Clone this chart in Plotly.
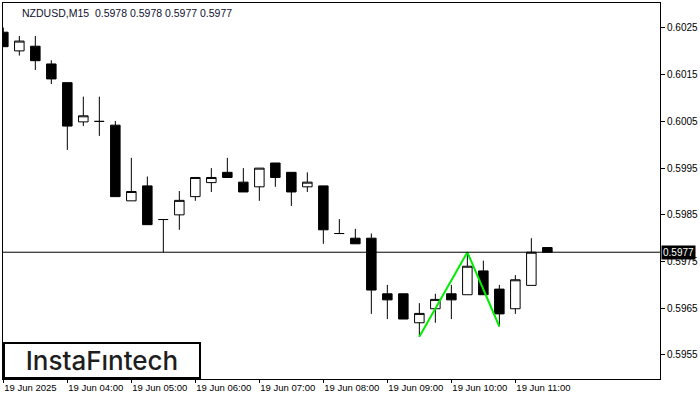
import plotly.graph_objects as go
import pandas as pd

symbol_title = "NZDUSD,M15\u00a0 0.5978 0.5978 0.5977 0.5977"

times = [
    "2025-06-19 03:00", "2025-06-19 03:15", "2025-06-19 03:30", "2025-06-19 03:45",
    "2025-06-19 04:00", "2025-06-19 04:15", "2025-06-19 04:30", "2025-06-19 04:45",
    "2025-06-19 05:00", "2025-06-19 05:15", "2025-06-19 05:30", "2025-06-19 05:45",
    "2025-06-19 06:00", "2025-06-19 06:15", "2025-06-19 06:30", "2025-06-19 06:45",
    "2025-06-19 07:00", "2025-06-19 07:15", "2025-06-19 07:30", "2025-06-19 07:45",
    "2025-06-19 08:00", "2025-06-19 08:15", "2025-06-19 08:30", "2025-06-19 08:45",
    "2025-06-19 09:00", "2025-06-19 09:15", "2025-06-19 09:30", "2025-06-19 09:45",
    "2025-06-19 10:00", "2025-06-19 10:15", "2025-06-19 10:30", "2025-06-19 10:45",
    "2025-06-19 11:00", "2025-06-19 11:15", "2025-06-19 11:30",
]

open_ = [0.60241, 0.60201, 0.60211, 0.60173, 0.60133, 0.60049, 0.60050, 0.60042,
         0.59880, 0.59912, 0.59840, 0.59850, 0.59889, 0.59919, 0.59941, 0.59920,
         0.59910, 0.59961, 0.59941, 0.59910, 0.59912, 0.59810, 0.59800, 0.59800,
         0.59681, 0.59681, 0.59619, 0.59649, 0.59681, 0.59679, 0.59730, 0.59691,
         0.59649, 0.59699, 0.59780]
high = [0.60251, 0.60233, 0.60233, 0.60181, 0.60133, 0.60103, 0.60103, 0.60051,
        0.59972, 0.59932, 0.59840, 0.59901, 0.59930, 0.59950, 0.59972, 0.59950,
        0.59950, 0.59961, 0.59941, 0.59941, 0.59912, 0.59841, 0.59820, 0.59810,
        0.59700, 0.59681, 0.59661, 0.59681, 0.59700, 0.59770, 0.59752, 0.59700,
        0.59721, 0.59800, 0.59780]
low = [0.60210, 0.60191, 0.60160, 0.60130, 0.59989, 0.60040, 0.60019, 0.59889,
       0.59880, 0.59829, 0.59770, 0.59818, 0.59880, 0.59899, 0.59930, 0.59899,
       0.59880, 0.59910, 0.59869, 0.59899, 0.59788, 0.59810, 0.59788, 0.59638,
       0.59627, 0.59627, 0.59589, 0.59619, 0.59627, 0.59679, 0.59679, 0.59611,
       0.59638, 0.59699, 0.59770]
close = [0.60210, 0.60222, 0.60180, 0.60141, 0.60040, 0.60062, 0.60050, 0.59889,
         0.59900, 0.59829, 0.59840, 0.59881, 0.59930, 0.59930, 0.59930, 0.59899,
         0.59950, 0.59930, 0.59899, 0.59920, 0.59818, 0.59810, 0.59788, 0.59689,
         0.59668, 0.59627, 0.59639, 0.59669, 0.59668, 0.59740, 0.59679, 0.59638,
         0.59711, 0.59770, 0.59770]

# double-bottom pattern: low -> high -> low
pattern_idx = [26, 29, 31]
pattern_kind = ["low", "high", "low"]

y_tick_vals = [0.5955, 0.5965, 0.5975, 0.5985, 0.5995, 0.6005, 0.6015, 0.6025]
x_tick_vals = ["2025-06-19 03:00", "2025-06-19 04:00", "2025-06-19 05:00",
               "2025-06-19 06:00", "2025-06-19 07:00", "2025-06-19 08:00",
               "2025-06-19 09:00", "2025-06-19 10:00", "2025-06-19 11:00"]
x_tick_text = ["19 Jun 2025", "19 Jun 04:00", "19 Jun 05:00", "19 Jun 06:00",
               "19 Jun 07:00", "19 Jun 08:00", "19 Jun 09:00", "19 Jun 10:00",
               "19 Jun 11:00"]

FONT = "Liberation Sans"

fig = go.Figure()
fig.add_trace(go.Candlestick(
    x=times, open=open_, high=high, low=low, close=close,
    increasing=dict(line=dict(color="black", width=1), fillcolor="white"),
    decreasing=dict(line=dict(color="black", width=1), fillcolor="black"),
    whiskerwidth=0, showlegend=False, hoverinfo="skip",
))

pat_x = [times[i] for i in pattern_idx]
pat_y = [low[i] if k == "low" else high[i] for i, k in zip(pattern_idx, pattern_kind)]
fig.add_trace(go.Scatter(x=pat_x, y=pat_y, mode="lines",
                         line=dict(color="#00ee00", width=2),
                         showlegend=False, hoverinfo="skip"))

t0 = pd.Timestamp(times[0])
bar = pd.Timedelta(minutes=15)
x_range = [t0 - 0.02 * bar, t0 + 41.04 * bar]

last = close[-1]
fig.add_shape(type="line", xref="paper", x0=0, x1=1, yref="y", y0=last, y1=last,
              line=dict(color="black", width=1))

fig.add_annotation(xref="paper", x=1, xanchor="left", xshift=1, yref="y", y=last,
                   yanchor="middle", text=f"{last:.4f}", showarrow=False,
                   bgcolor="black", font=dict(color="white", size=10, family=FONT),
                   borderpad=1)

fig.add_annotation(xref="paper", x=0, xanchor="left", xshift=17, yref="paper", y=1,
                   yanchor="top", yshift=-2, text=symbol_title, showarrow=False,
                   font=dict(color="#101030", size=10.5, family=FONT))

fig.add_annotation(xref="paper", x=0, xanchor="left", yref="paper", y=0, yanchor="bottom",
                   text="InstaF\u0131ntech", showarrow=False,
                   font=dict(color="#1e1e1e", size=26, family="Inter", weight=500),
                   width=194, height=33, bordercolor="black", borderwidth=2,
                   borderpad=0, bgcolor="white")

fig.update_layout(
    width=700, height=400,
    margin=dict(l=3, r=40, t=3, b=21, autoexpand=False),
    paper_bgcolor="white", plot_bgcolor="white",
    boxgap=0.15,
    xaxis=dict(
        type="date", range=x_range, rangeslider=dict(visible=False),
        tickmode="array", tickvals=x_tick_vals, ticktext=x_tick_text,
        ticks="outside", ticklen=3, tickcolor="black", tickangle=0,
        ticklabelposition="outside right", automargin=False,
        showgrid=False, zeroline=False,
        showline=True, linecolor="black", linewidth=1, mirror=True,
        tickfont=dict(family=FONT, size=9.5, color="black"),
    ),
    yaxis=dict(
        side="right", range=[0.594986, 0.603035], automargin=False,
        tickmode="array", tickvals=y_tick_vals, tickformat=".4f",
        ticks="outside", ticklen=4, tickcolor="black",
        showgrid=False, zeroline=False,
        showline=True, linecolor="black", linewidth=1, mirror=True,
        tickfont=dict(family=FONT, size=10, color="black"),
    ),
)

fig.write_html("out.html", config={"displayModeBar": False},
               post_script="document.body.style.margin='0';document.body.style.overflow='hidden';")
